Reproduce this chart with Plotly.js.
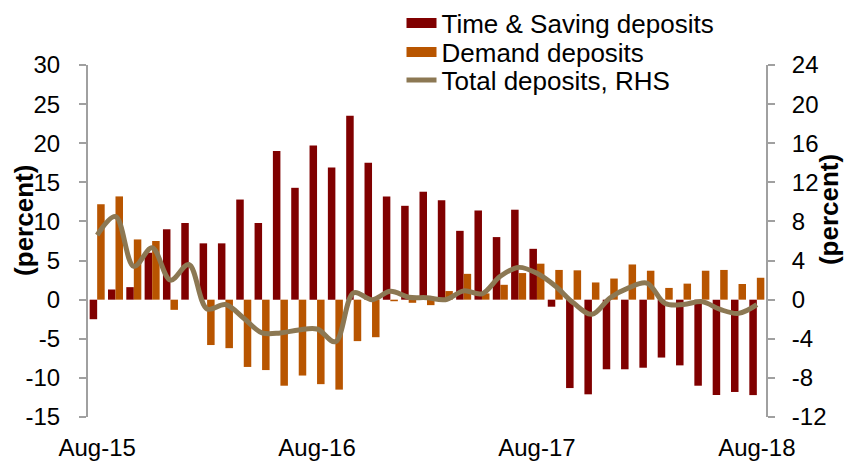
<!DOCTYPE html>
<html>
<head>
<meta charset="utf-8">
<script src="https://cdn.plot.ly/plotly-3.0.1.min.js"></script>
<style>html,body{margin:0;padding:0;background:#fff;}#chart{width:848px;height:464px;}</style>
</head>
<body>
<div id="chart"></div>
<script>
const months = ["Aug-15","Sep-15","Oct-15","Nov-15","Dec-15","Jan-16","Feb-16","Mar-16","Apr-16","May-16","Jun-16","Jul-16",
  "Aug-16","Sep-16","Oct-16","Nov-16","Dec-16","Jan-17","Feb-17","Mar-17","Apr-17","May-17","Jun-17","Jul-17",
  "Aug-17","Sep-17","Oct-17","Nov-17","Dec-17","Jan-18","Feb-18","Mar-18","Apr-18","May-18","Jun-18","Jul-18","Aug-18"];
const xTickLabels = ["Aug-15","Aug-16","Aug-17","Aug-18"];
const leftTickVals = [-15, -10, -5, 0, 5, 10, 15, 20, 25, 30];
const leftTickText = ["-15", "-10", "-5", "0", "5", "10", "15", "20", "25", "30"];
const rightTickVals = [-12, -8, -4, 0, 4, 8, 12, 16, 20, 24];
const rightTickText = ["-12", "-8", "-4", "0", "4", "8", "12", "16", "20", "24"];
const timeSaving = [-2.5, 1.3, 1.6, 6.0, 9.0, 9.8, 7.2, 7.2, 12.8, 9.8, 19.0, 14.3, 19.7, 16.9, 23.5, 17.5, 13.2, 12.0, 13.8,
  12.7, 8.8, 11.4, 8.0, 11.5, 6.5, -0.9, -11.3, -12.1, -8.9, -8.9, -8.7, -7.4, -8.4, -11.0, -12.2, -11.8, -12.2];
const demand = [12.2, 13.2, 7.7, 7.5, -1.3, 0, -5.8, -6.2, -8.6, -9.0, -11.0, -9.7, -10.8, -11.5, -5.3, -4.8, -0.2, -0.4, -0.7,
  1.1, 3.3, 0.8, 1.9, 3.4, 4.6, 3.8, 3.75, 2.2, 2.7, 4.5, 3.7, 1.5, 2.05, 3.7, 3.8, 2.0, 2.8];
const total = [6.6, 8.5, 3.4, 5.3, 2.0, 3.6, -0.95, -0.5, -1.9, -3.4, -3.4, -3.1, -3.0, -4.3, 0.7, 0.0, 0.85, 0.25, 0.2,
  0.0, 0.9, 0.6, 2.4, 3.3, 2.7, 1.4, -0.35, -1.5, 0.2, 1.2, 1.7, -0.4, -0.5, -0.2, -1.0, -1.4, -0.5];
const seriesNames = ["Time & Saving deposits", "Demand deposits", "Total deposits, RHS"];
const seriesColors = ["#800000", "#b85500", "#8c7853"];

const FONT = "Arial, 'Liberation Sans', sans-serif";
const AXIS_GRAY = "#a0a0a0";
const LEG_FONT = {family: FONT, size: 26, color: "#000"};

const traces = [
  {type: "bar", name: seriesNames[0], x: months, y: timeSaving, yaxis: "y", xaxis: "x",
   marker: {color: seriesColors[0], line: {width: 0}}, showlegend: false},
  {type: "bar", name: seriesNames[1], x: months, y: demand, yaxis: "y", xaxis: "x",
   marker: {color: seriesColors[1], line: {width: 0}}, showlegend: false},
  {type: "scatter", mode: "lines", name: seriesNames[2], x: months, y: total, yaxis: "y2", xaxis: "x",
   line: {color: seriesColors[2], width: 5, shape: "spline", smoothing: 1}, legend: "legend3"},
  // legend swatches for the two bar series (wide bands like the reference)
  {type: "scatter", mode: "lines", name: seriesNames[0], x: [null], y: [null], hoverinfo: "skip",
   line: {color: seriesColors[0], width: 12}, legend: "legend"},
  {type: "scatter", mode: "lines", name: seriesNames[1], x: [null], y: [null], hoverinfo: "skip",
   line: {color: seriesColors[1], width: 12}, legend: "legend2"}
];

const legBase = {x: 0.4624, xanchor: "left", yanchor: "middle", bgcolor: "rgba(0,0,0,0)", font: LEG_FONT,
                 borderwidth: 0};

const layout = {
  width: 848, height: 464,
  margin: {l: 88, r: 82, t: 65, b: 47, autoexpand: false},
  paper_bgcolor: "#ffffff", plot_bgcolor: "#ffffff",
  font: {family: FONT, size: 24, color: "#000"},
  barmode: "group", bargap: 0.18, bargroupgap: 0,
  showlegend: true,
  legend: Object.assign({}, legBase, {y: 1.119}),
  legend2: Object.assign({}, legBase, {y: 1.037}),
  legend3: Object.assign({}, legBase, {y: 0.957}),
  xaxis: {type: "category", range: [-0.5, 36.5], tickvals: xTickLabels, ticktext: xTickLabels,
          showline: false, ticks: "", showgrid: false, zeroline: false, ticklabelstandoff: 14,
          tickfont: {family: FONT, size: 24, color: "#000"}},
  xaxis2: {type: "linear", overlaying: "x", anchor: "free", position: 1/3, range: [-0.5, 36.5],
           tickvals: [-0.5, 11.5, 23.5, 35.5], showticklabels: false, ticks: "outside", ticklen: 6,
           tickcolor: AXIS_GRAY, tickwidth: 2, showline: true, linecolor: AXIS_GRAY, linewidth: 2,
           showgrid: false, zeroline: false},
  yaxis: {range: [-15, 30], tickmode: "array", tickvals: leftTickVals, ticktext: leftTickText,
          ticks: "outside", ticklen: 7, tickwidth: 2, tickcolor: AXIS_GRAY,
          showline: true, linecolor: AXIS_GRAY, linewidth: 2, showgrid: false, zeroline: false,
          ticklabelstandoff: 14, tickfont: {family: FONT, size: 24, color: "#000"}},
  yaxis2: {range: [-12, 24], tickmode: "array", tickvals: rightTickVals, ticktext: rightTickText,
           overlaying: "y", side: "right", anchor: "x",
           ticks: "outside", ticklen: 7, tickwidth: 2, tickcolor: AXIS_GRAY,
           showline: true, linecolor: AXIS_GRAY, linewidth: 2, showgrid: false, zeroline: false,
           ticklabelstandoff: 12, tickfont: {family: FONT, size: 24, color: "#000"}},
  annotations: [
    {text: "<b>(percent)</b>", xref: "paper", yref: "paper", x: -0.0944, y: 0.56, textangle: -90,
     showarrow: false, xanchor: "center", yanchor: "middle", font: {family: FONT, size: 26, color: "#000"}},
    {text: "<b>(percent)</b>", xref: "paper", yref: "paper", x: 1.093, y: 0.588, textangle: -90,
     showarrow: false, xanchor: "center", yanchor: "middle", font: {family: FONT, size: 26, color: "#000"}}
  ]
};

Plotly.newPlot("chart", traces, layout, {displayModeBar: false, staticPlot: true});
</script>
</body>
</html>
